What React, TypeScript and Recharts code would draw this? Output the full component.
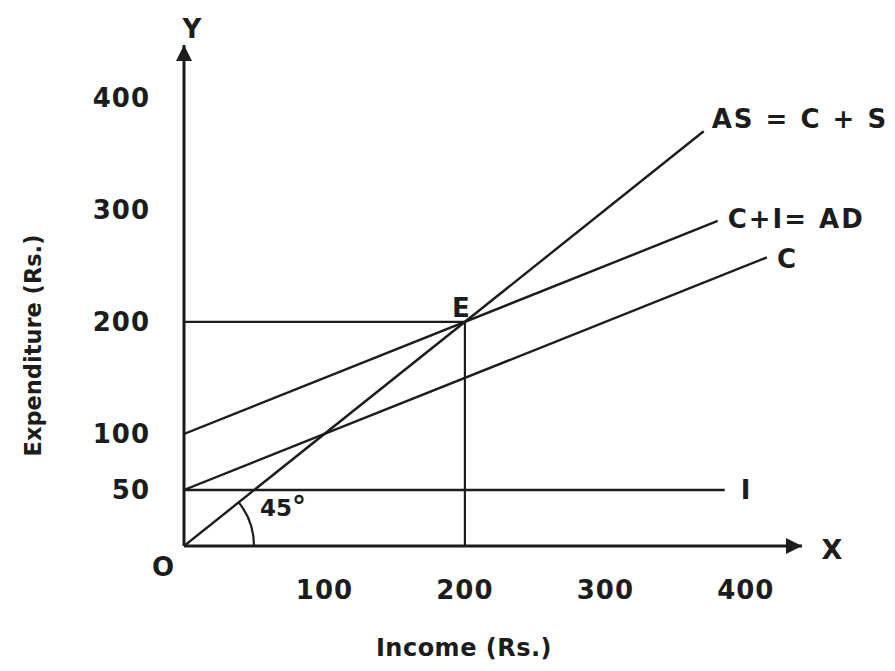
import React from 'react'
import { LineChart, Line, XAxis, YAxis, ReferenceLine, ReferenceDot, Label } from 'recharts'

// tick labels
const incomeTicks = [100, 200, 300, 400]
const expenditureTicks = [50, 100, 200, 300, 400]

// AS = C + S : the 45° line, expenditure = income
const asIncome = [0, 370]
const asExpenditure = [0, 370]
// C + I = AD
const adIncome = [0, 380]
const adExpenditure = [100, 290]
// C
const cIncome = [0, 415]
const cExpenditure = [50, 257.5]
// I (autonomous investment)
const iIncome = [0, 385]
const iExpenditure = [50, 50]
// equilibrium E
const eqIncome = 200
const eqExpenditure = 200

const INK = '#1c1c1c'
const FONT = '"DejaVu Sans", Arial, sans-serif'

const toPoints = (xs: number[], ys: number[]) => xs.map((x, i) => ({ income: x, exp: ys[i] }))
const last = (a: number[]) => a[a.length - 1]

const asData = toPoints(asIncome, asExpenditure)
const adData = toPoints(adIncome, adExpenditure)
const cData = toPoints(cIncome, cExpenditure)
const iData = toPoints(iIncome, iExpenditure)

// text placed relative to a reference point / axis box
const tag = (text: React.ReactNode, dx: number, dy: number, anchor = 'start', size = 26, spacing = 2) => (props: any) => {
  const vb = props.viewBox || {}
  const x = (vb.x ?? 0) + (vb.width ?? 0) / 2
  const y = (vb.y ?? 0) + (vb.height ?? 0) / 2
  return (
    <text x={x + dx} y={y + dy} textAnchor={anchor} dominantBaseline="central"
      fill={INK} fontSize={size} fontWeight="bold" letterSpacing={spacing} fontFamily={FONT}>
      {text}
    </text>
  )
}

// 45° arc drawn at the origin point of the AS line
const AngleArc = (props: any) => {
  const { cx, cy, index, points } = props
  if (index !== 0 || cx == null) return <g key={`d-${index}`} />
  let theta = (38.6 * Math.PI) / 180
  if (points && points[1]) theta = Math.atan2(cy - points[1].y, points[1].x - cx)
  const r = 70
  const ex = cx + r * Math.cos(theta)
  const ey = cy - r * Math.sin(theta)
  return (
    <path key="arc" d={`M${cx + r},${cy} A${r},${r} 0 0 0 ${ex},${ey}`}
      fill="none" stroke={INK} strokeWidth={2.2} />
  )
}

export default function App() {
  const lineProps = { type: 'linear' as const, dataKey: 'exp', stroke: INK, strokeWidth: 2.4, isAnimationActive: false }
  const tick = { fill: INK, fontSize: 26, fontWeight: 'bold', letterSpacing: 1, fontFamily: FONT }

  return (
    <div style={{ width: 880, height: 655, background: '#fff' }}>
      <LineChart width={880} height={655} margin={{ top: 37, right: 86, bottom: 0, left: 0 }}>
        <defs>
          <marker id="arrow" viewBox="0 0 10 10" refX="10" refY="5" markerUnits="userSpaceOnUse"
            markerWidth="20" markerHeight="16" orient="auto-start-reverse">
            <path d="M0,0 L10,5 L0,10 z" fill={INK} />
          </marker>
        </defs>

        <XAxis dataKey="income" type="number" domain={[0, 440]} ticks={incomeTicks} allowDataOverflow
          height={117} tickLine={false} tickSize={0} tickMargin={35} tick={tick}
          axisLine={{ stroke: INK, strokeWidth: 3, markerEnd: 'url(#arrow)' }}>
          <Label content={tag('Income (Rs.)', -29, 102 - 58.5, 'middle', 24, 0.5)} />
          <Label content={tag('X', 339, 3 - 58.5, 'middle', 27, 0)} />
        </XAxis>
        <YAxis type="number" domain={[0, 447]} ticks={expenditureTicks} allowDataOverflow
          width={176} tickLine={false} tickSize={0} tickMargin={34} tick={tick}
          axisLine={{ stroke: INK, strokeWidth: 3, markerStart: 'url(#arrow)' }}>
          <Label content={(p: any) => {
            const vb = p.viewBox || {}
            const x = vb.x + 25
            const y = vb.y + vb.height / 2 + 50
            return (
              <text x={x} y={y} transform={`rotate(-90, ${x}, ${y})`} textAnchor="middle"
                dominantBaseline="central" fill={INK} fontSize={22.5} fontWeight="bold" fontFamily={FONT}>
                Expenditure (Rs.)
              </text>
            )
          }} />
          <Label content={(p: any) => {
            const vb = p.viewBox || {}
            return (
              <text x={vb.x + vb.width + 8} y={vb.y - 16} textAnchor="middle" dominantBaseline="central"
                fill={INK} fontSize={26} fontWeight="bold" fontFamily={FONT}>Y</text>
            )
          }} />
        </YAxis>

        <ReferenceLine segment={[{ x: 0, y: eqExpenditure }, { x: eqIncome, y: eqExpenditure }]}
          stroke={INK} strokeWidth={2.2} ifOverflow="visible" />
        <ReferenceLine segment={[{ x: eqIncome, y: 0 }, { x: eqIncome, y: eqExpenditure }]}
          stroke={INK} strokeWidth={2.2} ifOverflow="visible" />

        <Line {...lineProps} data={iData} dot={false} />
        <Line {...lineProps} data={cData} dot={false} />
        <Line {...lineProps} data={adData} dot={false} />
        <Line {...lineProps} data={asData} dot={AngleArc} activeDot={false} />

        <ReferenceDot x={last(asIncome)} y={last(asExpenditure)} r={1} fill="none" stroke="none"
          ifOverflow="visible" label={tag('AS = C + S', 8, -12)} />
        <ReferenceDot x={last(adIncome)} y={last(adExpenditure)} r={1} fill="none" stroke="none"
          ifOverflow="visible" label={tag('C+I= AD', 10, -2)} />
        <ReferenceDot x={last(cIncome)} y={last(cExpenditure)} r={1} fill="none" stroke="none"
          ifOverflow="visible" label={tag('C', 10, 2, 'start', 26, 0)} />
        <ReferenceDot x={last(iIncome)} y={last(iExpenditure)} r={1} fill="none" stroke="none"
          ifOverflow="visible" label={tag('I', 16, 0, 'start', 26, 0)} />
        <ReferenceDot x={eqIncome} y={eqExpenditure} r={1} fill="none" stroke="none"
          ifOverflow="visible" label={tag('E', -4, -14, 'middle', 26, 0)} />
        <ReferenceDot x={0} y={0} r={1} fill="none" stroke="none" ifOverflow="visible"
          label={tag('O', -21, 21, 'middle', 26, 0)} />
        <ReferenceDot x={0} y={0} r={1} fill="none" stroke="none" ifOverflow="visible"
          label={tag(<><tspan>45</tspan><tspan fontSize={28} dy={-2}>°</tspan></>, 76, -38, 'start', 23, 0)} />
      </LineChart>
    </div>
  )
}
